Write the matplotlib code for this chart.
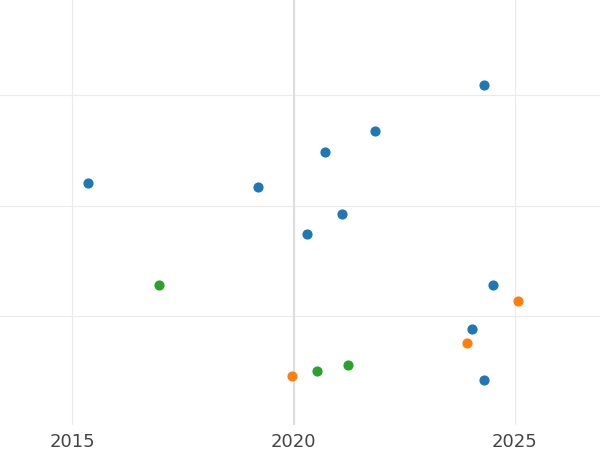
import matplotlib
matplotlib.use("Agg")
import matplotlib.pyplot as plt

blue_x = [2015.36, 2019.20, 2020.71, 2021.84, 2024.30, 2021.09, 2020.30, 2024.50, 2024.03, 2024.30]
blue_y = [2.20, 2.17, 2.48, 2.67, 3.09, 1.92, 1.74, 1.28, 0.88, 0.42]
green_x = [2016.96, 2020.53, 2021.23]
green_y = [1.28, 0.50, 0.56]
orange_x = [2019.97, 2023.92, 2025.07]
orange_y = [0.46, 0.76, 1.14]
xticks = [2015, 2020, 2025]
ygrid = [1, 2, 3]

fig = plt.figure(figsize=(6, 4.5), dpi=100)
ax = fig.add_axes([0, 0.0556, 1, 0.9444])
ax.set_xlim(2013.37, 2026.92)
ax.set_ylim(0.014, 3.86)
ax.set_xticks(xticks)
ax.set_yticks(ygrid)
ax.set_yticklabels([])
ax.grid(True, color="#ebebeb", linewidth=0.8)
ax.axvline(2020, color="#dddddd", linewidth=1.5, zorder=1)
for s in ax.spines.values():
    s.set_visible(False)
ax.tick_params(length=0, labelsize=13, labelcolor="#444444", pad=6)
ax.set_axisbelow(True)
ax.scatter(blue_x, blue_y, s=40, color="#1f77b4", zorder=3)
ax.scatter(green_x, green_y, s=40, color="#2ca02c", zorder=3)
ax.scatter(orange_x, orange_y, s=40, color="#ff7f0e", zorder=3)
fig.savefig("out.png")
